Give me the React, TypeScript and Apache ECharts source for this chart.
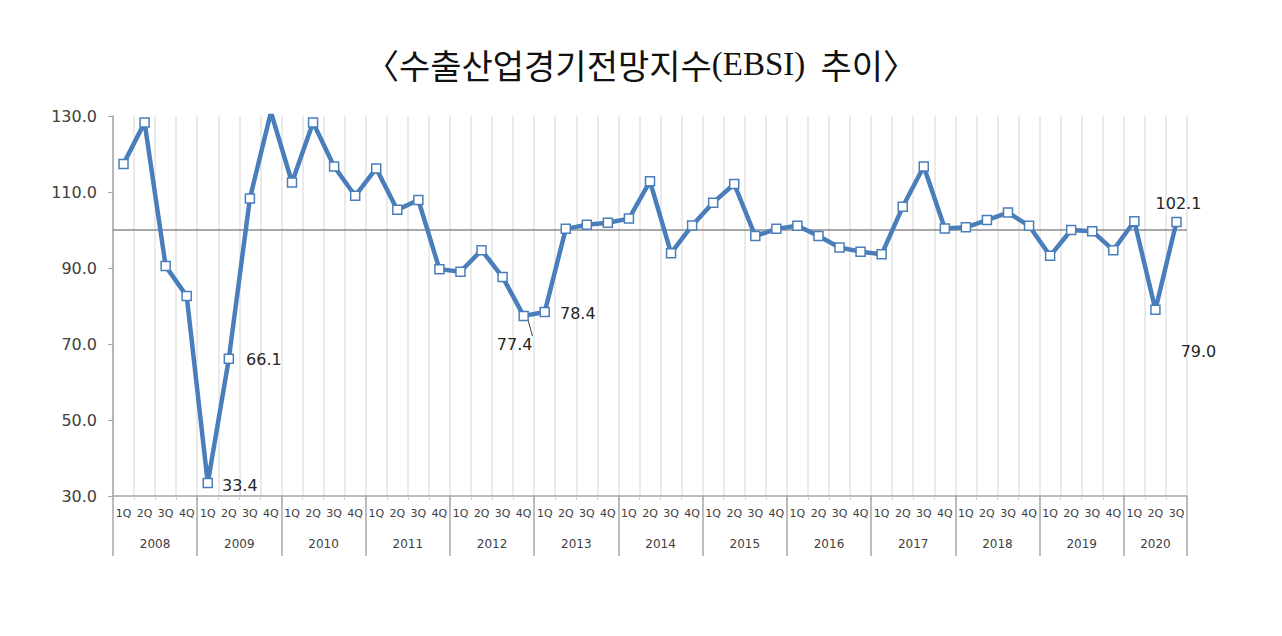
import React, { useEffect, useRef } from "react";
import * as echarts from "echarts";

const TITLE_MAIN = "〈수출산업경기전망지수";
const TITLE_ABBR = "(EBSI)";
const TITLE_TAIL = "  추이〉";
const YEARS = ["2008", "2009", "2010", "2011", "2012", "2013", "2014", "2015", "2016", "2017", "2018", "2019", "2020"];
const QUARTERS_PER_YEAR = [4, 4, 4, 4, 4, 4, 4, 4, 4, 4, 4, 4, 3];
const QUARTER_NAMES = ["1Q", "2Q", "3Q", "4Q"];
const EBSI = [
  117.4, 128.3, 90.5, 82.6,
  33.4, 66.1, 108.3, 131.0,
  112.5, 128.3, 116.7, 109.0,
  116.2, 105.3, 107.9, 89.7,
  89.0, 94.7, 87.6, 77.4,
  78.4, 100.3, 101.4, 101.9,
  103.0, 112.8, 93.9, 101.2,
  107.2, 112.1, 98.4, 100.3,
  101.1, 98.4, 95.4, 94.3,
  93.6, 106.1, 116.7, 100.4,
  100.7, 102.6, 104.6, 101.1,
  93.2, 100.0, 99.7, 94.7,
  102.3, 79.0, 102.1,
];
const Y_MIN = 30;
const Y_MAX = 130;
const Y_STEP = 20;
const BASELINE = 100;

// labelled points: index -> label placement
const LABELLED: Record<number, any> = {
  4: { position: "right", offset: [4, 2] },
  5: { position: "right", offset: [7, 1] },
  19: { position: "bottom", offset: [-9, 10], labelLine: true },
  20: { position: "right", offset: [5, 1] },
  49: { position: "right", offset: [15, 42] },
  50: { position: "top", offset: [2, 0] },
};

export default function App() {
  const ref = useRef<HTMLDivElement>(null);
  useEffect(() => {
    if (!ref.current) return;
    const chart = echarts.init(ref.current, undefined, { renderer: "svg" });

    const quarterLabels: string[] = [];
    QUARTERS_PER_YEAR.forEach((n) => {
      for (let i = 0; i < n; i++) quarterLabels.push(QUARTER_NAMES[i]);
    });
    const total = quarterLabels.length;
    const halfSlots: string[] = new Array(total * 2 + 1).fill("");
    const boundaries = new Set<number>();
    let start = 0;
    YEARS.forEach((y, i) => {
      const n = QUARTERS_PER_YEAR[i];
      halfSlots[2 * start + n] = y;
      boundaries.add(2 * start);
      start += n;
    });
    boundaries.add(2 * total);
    const halfNames = halfSlots.map((v, i) => (v ? v : " ".repeat(i % 5 + 1) + "_" + i));

    const data = EBSI.map((v, i) => {
      const l = LABELLED[i];
      if (!l) return v;
      const item: any = {
        value: v,
        label: {
          show: true,
          position: l.position,
          offset: l.offset,
          formatter: v.toFixed(1),
          fontSize: 16,
          color: "#262626",
          fontFamily: "DejaVu Sans",
        },
      };
      if (l.labelLine) {
        item.labelLine = { show: true, lineStyle: { color: "#404040", width: 1 } };
      }
      return item;
    });

    chart.setOption({
      animation: false,
      backgroundColor: "#ffffff",
      title: {
        text: "{k|" + TITLE_MAIN + "}{e|" + TITLE_ABBR + "}{k|" + TITLE_TAIL + "}",
        left: "center",
        top: 42,
        textStyle: {
          rich: {
            k: {
              fontFamily: "Noto Sans CJK KR",
              fontSize: 34,
              fontWeight: "normal",
              color: "#111111",
            },
            e: {
              fontFamily: "Liberation Serif",
              fontSize: 33,
              fontWeight: "normal",
              color: "#111111",
            },
          },
        },
      },
      grid: { left: 113, right: 95, top: 116, bottom: 140, containLabel: false },
      xAxis: [
        {
          type: "category",
          data: quarterLabels,
          position: "bottom",
          axisLine: { show: true, lineStyle: { color: "#a6a6a6", width: 1.5 } },
          axisTick: { show: true, length: 4, lineStyle: { color: "#d0d0d0" } },
          splitLine: { show: true, interval: 0, lineStyle: { color: "#e3e3e3", width: 1.5 } },
          axisLabel: {
            interval: 0,
            margin: 12,
            fontSize: 11,
            color: "#404040",
            fontFamily: "DejaVu Sans",
          },
        },
        {
          type: "category",
          data: halfNames,
          boundaryGap: false,
          position: "bottom",
          offset: 0,
          axisLine: { show: false },
          axisTick: {
            show: true,
            length: 60,
            interval: (idx: number) => boundaries.has(idx),
            lineStyle: { color: "#a6a6a6", width: 1.5 },
          },
          axisLabel: {
            interval: (idx: number) => halfSlots[idx] !== "",
            formatter: (v: string) => (v.indexOf("_") >= 0 ? "" : v),
            margin: 42,
            fontSize: 12,
            color: "#404040",
            fontFamily: "DejaVu Sans",
          },
          splitLine: { show: false },
        },
      ],
      yAxis: {
        type: "value",
        min: Y_MIN,
        max: Y_MAX,
        interval: Y_STEP,
        axisLine: { show: true, lineStyle: { color: "#a6a6a6", width: 1.5 } },
        axisTick: { show: true, length: 5, lineStyle: { color: "#a6a6a6" } },
        splitLine: { show: false },
        axisLabel: {
          formatter: (v: number) => v.toFixed(1),
          fontSize: 16,
          margin: 16,
          color: "#404040",
          fontFamily: "DejaVu Sans",
        },
      },
      series: [
        {
          type: "line",
          xAxisIndex: 0,
          data,
          clip: true,
          symbol: "rect",
          symbolSize: 9,
          showAllSymbol: true,
          itemStyle: { color: "#ffffff", borderColor: "#4a7ebb", borderWidth: 1.5 },
          lineStyle: { color: "#4a7ebb", width: 4.5 },
          z: 3,
          markLine: {
            silent: true,
            symbol: "none",
            label: { show: false },
            lineStyle: { color: "#8c8c8c", width: 1.5, type: "solid" },
            data: [{ yAxis: BASELINE }],
            z: 2,
          },
        },
      ],
    });
    return () => chart.dispose();
  }, []);
  return (
    <div
      ref={ref}
      style={{ position: "absolute", left: 0, top: 0, width: 1282, height: 636 }}
    />
  );
}
